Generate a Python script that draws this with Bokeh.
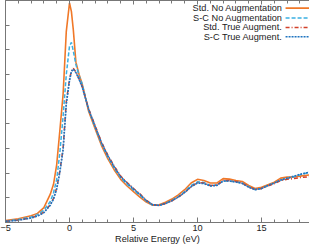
from bokeh.plotting import figure
from bokeh.models import (Range1d, LinearAxis, SingleIntervalTicker, CustomJSTickFormatter,
                          Label, Arrow)
from bokeh.embed import file_html
from bokeh.resources import INLINE

energy = [-5, -4, -3, -2.5, -2, -1.5, -1.25, -1, -0.75, -0.5, -0.25, 0, 0.15, 0.3, 0.5, 0.75,
          1, 1.5, 2, 2.5, 3, 3.5, 4, 4.5, 5, 5.5, 6, 6.5, 7, 7.5, 8, 8.5, 9, 9.5, 10, 10.5,
          11, 11.5, 12, 12.5, 13, 13.5, 14, 14.5, 15, 15.5, 16, 16.5, 17, 17.5, 18, 18.75]

std_no_aug = [0.08, 0.15, 0.27, 0.37, 0.6, 1.15, 1.55, 2.35, 3.75, 5.2, 7.75, 8.9, 8.55, 7.8, 6.5, 6.0,
              5.6, 4.5, 3.8, 3.12, 2.58, 2.13, 1.75, 1.48, 1.25, 1.03, 0.83, 0.7, 0.72, 0.82, 0.95, 1.12,
              1.33, 1.6, 1.75, 1.7, 1.6, 1.6, 1.78, 1.76, 1.7, 1.66, 1.5, 1.38, 1.43, 1.53, 1.63, 1.8,
              1.84, 1.85, 1.88, 1.93]

sc_no_aug = [0.06, 0.12, 0.22, 0.32, 0.5, 0.85, 1.2, 1.75, 2.85, 4.3, 6.0, 7.15, 7.3, 6.95, 6.4, 5.95,
             5.6, 4.55, 3.86, 3.19, 2.65, 2.2, 1.82, 1.55, 1.32, 1.1, 0.87, 0.71, 0.7, 0.78, 0.9, 1.05,
             1.25, 1.5, 1.65, 1.62, 1.5, 1.52, 1.68, 1.68, 1.65, 1.6, 1.45, 1.34, 1.38, 1.5, 1.6, 1.72,
             1.78, 1.85, 1.93, 2.04]

std_true_aug = [0.05, 0.1, 0.19, 0.27, 0.42, 0.72, 0.98, 1.4, 2.1, 3.0, 4.9, 5.8, 6.15, 6.25, 6.1, 5.82,
                5.5, 4.6, 3.93, 3.26, 2.73, 2.28, 1.88, 1.62, 1.38, 1.16, 0.9, 0.72, 0.69, 0.77, 0.88, 1.03,
                1.22, 1.45, 1.62, 1.6, 1.5, 1.52, 1.7, 1.7, 1.66, 1.6, 1.45, 1.34, 1.38, 1.48, 1.58, 1.7,
                1.75, 1.78, 1.82, 1.86]

sc_true_aug = [0.04, 0.09, 0.18, 0.26, 0.4, 0.7, 0.95, 1.36, 2.05, 2.95, 4.8, 5.75, 6.12, 6.22, 6.08, 5.8,
               5.48, 4.58, 3.9, 3.23, 2.7, 2.25, 1.85, 1.6, 1.36, 1.14, 0.89, 0.72, 0.69, 0.77, 0.88, 1.03,
               1.22, 1.45, 1.6, 1.58, 1.48, 1.5, 1.68, 1.68, 1.64, 1.58, 1.43, 1.33, 1.38, 1.5, 1.6, 1.72,
               1.8, 1.87, 1.95, 2.04]

series_names = ["Std. No Augmentation", "S-C No Augmentation", "Std. True Augment.", "S-C True Augment."]
series_values = [std_no_aug, sc_no_aug, std_true_aug, sc_true_aug]
colors = ["#f07828", "#3ab0e2", "#d2402a", "#1f74c0"]
dashes = ["solid", "4 2", "4 2 1 2", "2 1"]
widths = [1.6, 1.5, 1.5, 1.6]

# legend rows, in data units of the fixed axes (layout only)
legend_rows = [8.69, 8.29, 7.91, 7.53]
legend_text_x = 16.64
legend_line_x = (16.88, 18.75)

FONT = "Liberation Sans"
AX = "#777777"

p = figure(width=309, height=246, output_backend="svg", toolbar_location=None,
           x_range=Range1d(-5, 18.75), y_range=Range1d(0, 9.0),
           min_border_left=5, min_border_right=0, min_border_top=0, min_border_bottom=0,
           x_axis_label="Relative Energy (eV)")
p.outline_line_color = None
p.grid.visible = False
p.background_fill_color = "white"
p.border_fill_color = "white"

for name, vals, c, d, w in zip(series_names, series_values, colors, dashes, widths):
    p.line(energy, vals, line_color=c, line_dash=d, line_width=w)

# bottom axis
xa = p.xaxis[0]
xa.ticker = SingleIntervalTicker(interval=5, num_minor_ticks=5)
xa.axis_line_color = AX
xa.major_tick_line_color = AX
xa.minor_tick_line_color = AX
xa.major_tick_in = 5
xa.major_tick_out = 0
xa.minor_tick_in = 3
xa.minor_tick_out = 0
xa.major_label_text_font = FONT
xa.major_label_text_font_size = "9.2px"
xa.major_label_text_color = "#222222"
xa.major_label_standoff = 2
xa.axis_label_text_font = FONT
xa.axis_label_text_font_size = "9.2px"
xa.axis_label_text_font_style = "normal"
xa.axis_label_text_color = "#222222"
xa.axis_label_standoff = 0

# left axis (no labels)
ya = p.yaxis[0]
ya.ticker = SingleIntervalTicker(interval=1, num_minor_ticks=0)
ya.formatter = CustomJSTickFormatter(code="return ''")
ya.axis_line_color = AX
ya.major_tick_line_color = AX
ya.minor_tick_line_color = None
ya.major_tick_in = 4
ya.major_tick_out = 0
ya.major_label_standoff = 0
ya.major_label_text_font_size = "1px"

# top axis mirror ticks
top = LinearAxis(ticker=SingleIntervalTicker(interval=5, num_minor_ticks=5),
                 formatter=CustomJSTickFormatter(code="return ''"))
top.axis_line_color = AX
top.major_tick_line_color = AX
top.minor_tick_line_color = AX
top.major_tick_in = 4
top.major_tick_out = 0
top.minor_tick_in = 3
top.minor_tick_out = 0
top.major_label_standoff = 0
top.major_label_text_font_size = "1px"
p.add_layout(top, "above")

# legend (gnuplot style: text right-aligned, sample to the right)
for name, c, d, w, yy in zip(series_names, colors, dashes, widths, legend_rows):
    p.add_layout(Label(x=legend_text_x, y=yy, text=name,
                       text_align="right", text_baseline="middle", text_font=FONT,
                       text_font_size="9.2px", text_color="#222222"))
    p.add_layout(Arrow(end=None, x_start=legend_line_x[0], y_start=yy,
                       x_end=legend_line_x[1], y_end=yy,
                       line_color=c, line_dash=d, line_width=w))

open("out.html", "w").write(file_html(p, INLINE))
